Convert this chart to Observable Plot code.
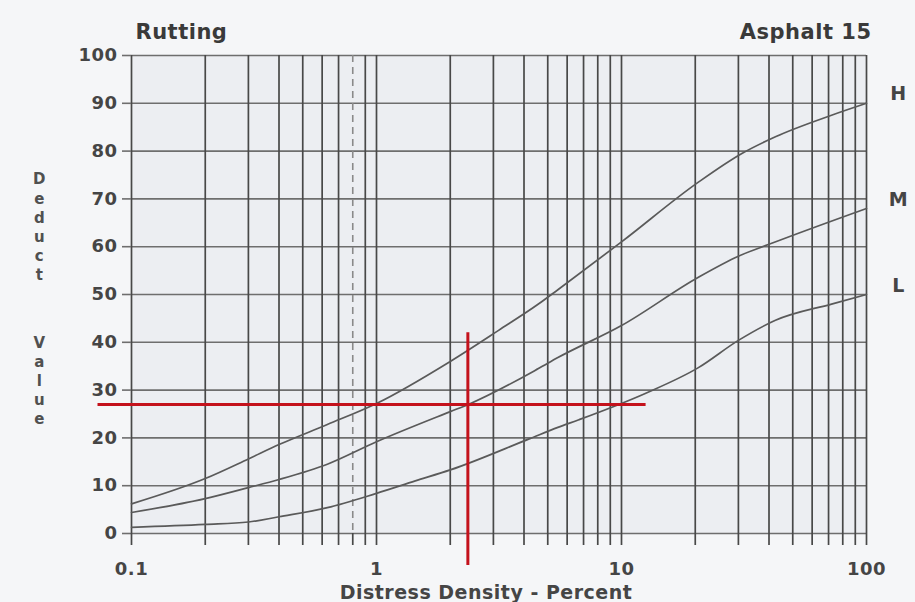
<!DOCTYPE html>
<html><head><meta charset="utf-8">
<script src="https://cdn.jsdelivr.net/npm/d3@7"></script>
<script src="https://cdn.jsdelivr.net/npm/@observablehq/plot@0.6"></script>
<style>
html,body{margin:0;padding:0;background:#f5f6f8;}
#chart svg{display:block}
</style></head><body><div id="chart"></div>
<script>
// Grid / tick values
const gridXValues = [0.1,0.2,0.3,0.4,0.5,0.6,0.7,0.8,0.9,1,2,3,4,5,6,7,8,9,10,20,30,40,50,60,70,80,90,100];
const dashedXValues = [0.8];
const gridYValues = [0,10,20,30,40,50,60,70,80,90,100];
const xLabelValues = [0.1,1,10,100];
const xLabels = ["0.1","1","10","100"];

// Severity curves (distress density %, deduct value)
const severity = ["H","M","L"];
const hDensity = [0.1,0.2,0.3,0.4,0.63,1,2,3.15,4.58,5.5,10,20.6,31,42.5,72,100];
const hDeduct  = [6.2,11.5,15.6,18.6,22.8,27.2,36,42.5,48,51,61,73.5,79.5,83,87.5,90];
const mDensity = [0.1,0.2,0.3,0.4,0.63,1,2,2.37,4.58,5.5,10,20.6,30,40,100];
const mDeduct  = [4.4,7.3,9.6,11.3,14.5,19.2,25.5,27,34.5,36.8,43.5,53.6,58,60.5,68];
const lDensity = [0.1,0.2,0.3,0.4,0.63,1,1.44,2,4.2,5.5,6.7,12.5,20.6,30,42.5,72,100];
const lDeduct  = [1.3,1.9,2.4,3.5,5.4,8.4,11,13.3,19.8,22.2,23.8,29.3,34.7,40.4,44.6,48,50];

// Red reference lines
const refDeduct = 27;
const refDeductSpan = [0.073, 12.6];
const refDensity = 2.36;
const refDensitySpan = [-6.7, 42];

const densities = [hDensity, mDensity, lDensity];
const deducts = [hDeduct, mDeduct, lDeduct];
const rows = severity.flatMap((s, i) => densities[i].map((x, j) => ({s, x, y: deducts[i][j]})));
const ends = severity.map((s, i) => ({s, x: densities[i][densities[i].length - 1], y: deducts[i][deducts[i].length - 1]}));

const ink = "#454545";
const chart = Plot.plot({
  width: 915, height: 602,
  marginTop: 55, marginRight: 49, marginBottom: 69, marginLeft: 131,
  style: {background: "transparent", fontFamily: "'DejaVu Sans', sans-serif", fontWeight: "bold", letterSpacing: "0.5px"},
  x: {type: "log", domain: [0.1, 100]},
  y: {domain: [0, 100]},
  marks: [
    Plot.frame({fill: "#eceef2", stroke: null}),
    Plot.gridY(gridYValues, {stroke: "#6e6e6e", strokeOpacity: 1, strokeWidth: 1.6}),
    Plot.gridX(gridXValues.filter(d => !dashedXValues.includes(d)), {stroke: "#484848", strokeOpacity: 1, strokeWidth: 1.7}),
    Plot.gridX(dashedXValues, {stroke: "#8a8a8a", strokeOpacity: 1, strokeWidth: 1.6, strokeDasharray: "7,5"}),
    Plot.axisY({ticks: gridYValues, tickSize: 9, tickPadding: 5, fontSize: 18, fill: ink, stroke: "#6e6e6e", strokeWidth: 1.6, label: null}),
    Plot.axisX({ticks: gridXValues, tickSize: 12, tickPadding: 17, fontSize: 18, fill: ink, stroke: "#484848", strokeWidth: 1.7, label: null,
      tickFormat: d => { const k = xLabelValues.indexOf(d); return k >= 0 ? xLabels[k] : ""; }}),
    Plot.line(rows, {x: "x", y: "y", z: "s", curve: "monotone-x", stroke: "#5a5a5a", strokeWidth: 1.7}),
    Plot.ruleY([refDeduct], {x1: refDeductSpan[0], x2: refDeductSpan[1], stroke: "#c4121c", strokeWidth: 3}),
    Plot.ruleX([refDensity], {y1: refDensitySpan[0], y2: refDensitySpan[1], stroke: "#c4121c", strokeWidth: 3}),
    Plot.text(ends, {x: "x", y: "y", text: "s", dx: 32, dy: -9, fontSize: 19, fill: ink, textAnchor: "middle"}),
    Plot.text(["Rutting"], {text: d => d, frameAnchor: "top-left", dx: 4, dy: -23, textAnchor: "start", lineAnchor: "middle", fontSize: 21, fill: "#3a3a3a"}),
    Plot.text(["Asphalt 15"], {text: d => d, frameAnchor: "top-right", dx: 5, dy: -23, textAnchor: "end", lineAnchor: "middle", fontSize: 21, fill: "#3a3a3a"}),
    Plot.text(["D\ne\nd\nu\nc\nt"], {text: d => d, frameAnchor: "left", dx: -92, dy: -68.5, lineHeight: 1.27, fontSize: 15, fill: "#505050", textAnchor: "middle", lineAnchor: "middle"}),
    Plot.text(["V\na\nl\nu\ne"], {text: d => d, frameAnchor: "left", dx: -92, dy: 85, lineHeight: 1.27, fontSize: 15, fill: "#505050", textAnchor: "middle", lineAnchor: "middle"}),
    Plot.text(["Distress Density - Percent"], {text: d => d, frameAnchor: "bottom", dx: -13, dy: 59, fontSize: 19, fill: ink, lineAnchor: "middle"})
  ]
});
document.getElementById("chart").append(chart);
</script></body></html>
